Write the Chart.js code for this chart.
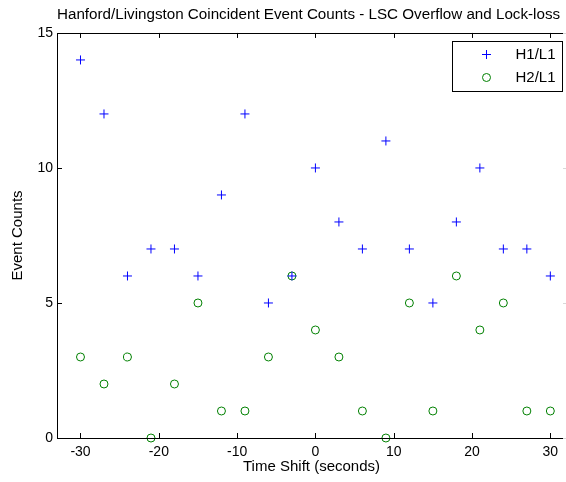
<!DOCTYPE html>
<html>
<head>
<meta charset="utf-8">
<script src="https://cdn.jsdelivr.net/npm/chart.js@4"></script>
<style>
html,body{margin:0;padding:0;background:#fff;overflow:hidden;}
#wrap{position:relative;width:566px;height:482px;}
</style>
</head>
<body>
<div id="wrap"><canvas id="c" width="566" height="482"></canvas></div>
<script>
const timeShifts = [-30,-27,-24,-21,-18,-15,-12,-9,-6,-3,0,3,6,9,12,15,18,21,24,27,30];
const h1l1 = [14,12,6,7,7,6,9,12,5,6,10,8,7,11,7,5,8,10,7,7,6];
const h2l1 = [3,2,3,0,2,5,1,1,3,6,4,3,1,0,5,1,6,4,5,1,1];
const xTicks = [-30,-20,-10,0,10,20,30];
const yTicks = [0,5,10,15];
const seriesLabels = ['H1/L1','H2/L1'];
const titleText = 'Hanford/Livingston Coincident Event Counts - LSC Overflow and Lock-loss';

const FONT = "'Liberation Sans', Arial, sans-serif";

const boxPlugin = {
  id: 'box',
  afterDraw(chart) {
    const ctx = chart.ctx;
    const a = chart.chartArea;
    const xs = chart.scales.x, ys = chart.scales.y;
    const L = Math.round(a.left) + 0.5, T = Math.round(a.top) + 0.5, B = Math.round(a.bottom) + 0.5;
    ctx.save();
    ctx.strokeStyle = '#000';
    ctx.lineWidth = 1;
    ctx.beginPath();
    ctx.moveTo(a.right + 2, T); ctx.lineTo(L, T); ctx.lineTo(L, B); ctx.lineTo(a.right + 2, B);
    ctx.stroke();
    ctx.beginPath();
    const tl = 5;
    xs.ticks.forEach(t => {
      const px = Math.round(xs.getPixelForValue(t.value)) + 0.5;
      ctx.moveTo(px, a.bottom); ctx.lineTo(px, a.bottom - tl);
      ctx.moveTo(px, a.top); ctx.lineTo(px, a.top + tl);
    });
    ys.ticks.forEach(t => {
      const py = Math.round(ys.getPixelForValue(t.value)) + 0.5;
      ctx.moveTo(a.left, py); ctx.lineTo(a.left + tl, py);
    });
    ctx.stroke();
    // faint inward ticks of the clipped right axis
    ctx.strokeStyle = '#d8d8d8';
    ctx.beginPath();
    ys.ticks.forEach(t => {
      const py = Math.round(ys.getPixelForValue(t.value)) + 0.5;
      ctx.moveTo(a.right - 3, py); ctx.lineTo(a.right + 1, py);
    });
    ctx.stroke();

    // legend box
    const bw = 110, bh = 50;
    const bx = Math.round(a.right - 4 - bw) + 0.5;
    const by = Math.round(a.top + 8) + 0.5;
    ctx.strokeStyle = '#000';
    ctx.fillStyle = '#fff';
    ctx.fillRect(bx, by, bw, bh);
    ctx.strokeRect(bx, by, bw, bh);
    chart.data.datasets.forEach((ds, i) => {
      const cy = by + 13 + i * 23;
      const mx = bx + 34;
      ctx.strokeStyle = ds.borderColor;
      ctx.lineWidth = 1;
      ctx.beginPath();
      if (ds.pointStyle === 'cross') {
        ctx.moveTo(mx - 4.5, cy); ctx.lineTo(mx + 4.5, cy);
        ctx.moveTo(mx, cy - 4.5); ctx.lineTo(mx, cy + 4.5);
      } else {
        ctx.arc(mx, cy, 4, 0, Math.PI * 2);
      }
      ctx.stroke();
      ctx.fillStyle = '#000';
      ctx.font = '15px ' + FONT;
      ctx.textBaseline = 'middle';
      ctx.textAlign = 'left';
      ctx.fillText(ds.label, bx + 63, cy);
    });
    ctx.restore();
  }
};

new Chart(document.getElementById('c'), {
  type: 'scatter',
  data: {
    datasets: [
      {
        label: seriesLabels[0],
        data: timeShifts.map((x, i) => ({x: x, y: h1l1[i]})),
        pointStyle: 'cross',
        pointRadius: 4.5,
        pointBorderWidth: 1,
        borderColor: '#0000ff',
        backgroundColor: '#0000ff'
      },
      {
        label: seriesLabels[1],
        data: timeShifts.map((x, i) => ({x: x, y: h2l1[i]})),
        pointStyle: 'circle',
        pointRadius: 4,
        pointBorderWidth: 1,
        borderColor: '#008000',
        backgroundColor: 'rgba(0,0,0,0)'
      }
    ]
  },
  options: {
    responsive: false,
    animation: false,
    clip: false,
    layout: {autoPadding: false, padding: {left: 0, right: 0, top: 0, bottom: 0}},
    plugins: {
      legend: {display: false},
      tooltip: {enabled: false},
      title: {
        display: true,
        text: titleText,
        fullSize: false,
        align: 'start',
        color: '#000',
        font: {family: FONT, size: 15.2, weight: 'normal', lineHeight: 1.2},
        padding: {top: 6, bottom: 8.7}
      }
    },
    scales: {
      x: {
        type: 'linear',
        min: -33, max: 32,
        afterBuildTicks: s => { s.ticks = xTicks.map(v => ({value: v})); },
        afterFit: s => { s.height = 44; s.paddingLeft = 0; s.paddingRight = 0; },
        grid: {display: false, drawTicks: false},
        border: {display: false},
        ticks: {color: '#000', font: {family: FONT, size: 14}, padding: 6, maxRotation: 0, autoSkip: false},
        title: {display: true, text: 'Time Shift (seconds)', color: '#000', font: {family: FONT, size: 15}, padding: {top: 0, bottom: 6}}
      },
      y: {
        type: 'linear',
        min: 0, max: 15,
        afterBuildTicks: s => { s.ticks = yTicks.map(v => ({value: v})); },
        afterFit: s => { s.width = 57; s.paddingTop = 0; s.paddingBottom = 0; },
        grid: {display: false, drawTicks: false},
        border: {display: false},
        ticks: {color: '#000', font: {family: FONT, size: 14}, padding: 4},
        title: {display: true, text: 'Event Counts', color: '#000', font: {family: FONT, size: 15}, padding: {top: 9, bottom: 0}}
      }
    }
  },
  plugins: [boxPlugin]
});
</script>
</body>
</html>
